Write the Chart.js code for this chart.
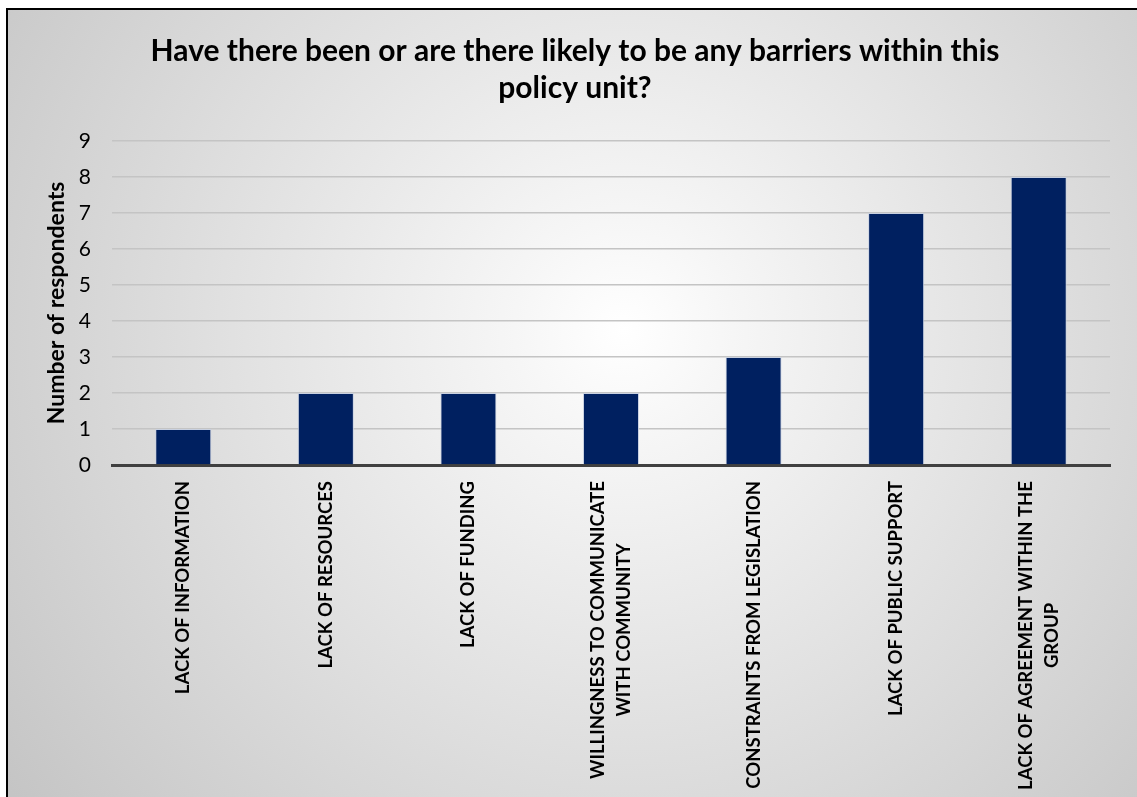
<!DOCTYPE html>
<html>
<head>
<meta charset="utf-8">
<script src="https://cdn.jsdelivr.net/npm/chart.js@4.4.1/dist/chart.umd.min.js"></script>
<style>
  html, body { margin: 0; padding: 0; overflow: hidden; width: 1137px; height: 797px; background: #fff; }
  #frame {
    position: absolute; left: 6px; top: 8px; width: 1140px; height: 800px;
    border-left: 2px solid #000; border-top: 2px solid #000;
    background: radial-gradient(circle farthest-corner at 54% 40%, #ffffff 0%, #f6f6f6 14%, #c4c4c4 100%);
  }
  #chart { position: absolute; left: 0; top: 0; }
</style>
</head>
<body>
<div id="frame"></div>
<canvas id="chart" width="1137" height="797"></canvas>
<script>
// Kategorien (mehrzeilige Labels als Arrays)
const categories = [
    ["LACK OF INFORMATION"],
    ["LACK OF RESOURCES"],
    ["LACK OF FUNDING"],
    ["WILLINGNESS TO COMMUNICATE", "WITH COMMUNITY"],
    ["CONSTRAINTS FROM LEGISLATION"],
    ["LACK OF PUBLIC SUPPORT"],
    ["LACK OF AGREEMENT WITHIN THE", "GROUP"],
];
const respondents = [1, 2, 2, 2, 3, 7, 8];
const yTicks = [0, 1, 2, 3, 4, 5, 6, 7, 8, 9];
const titleLines = [
    "Have there been or are there likely to be any barriers within this",
    "policy unit?",
];
const yAxisTitle = "Number of respondents";

const FONT = "Lato, 'Open Sans', sans-serif";

// x-Labels selbst zeichnen: Block oben bündig an der Achse, Zeilen zentriert
const xLabelPlugin = {
    id: "xLabels",
    afterDraw(chart) {
        const ctx = chart.ctx;
        const xScale = chart.scales.x;
        const top = chart.chartArea.bottom + 16;
        const lineHeight = 26;
        ctx.save();
        ctx.font = "bold 18.5px " + FONT;
        ctx.fillStyle = "#000";
        ctx.textAlign = "center";
        ctx.textBaseline = "middle";
        categories.forEach((lines, i) => {
            const x = xScale.getPixelForValue(i);
            const maxW = Math.max(...lines.map((l) => ctx.measureText(l).width));
            ctx.save();
            ctx.translate(x, top);
            ctx.rotate(-Math.PI / 2);
            lines.forEach((line, j) => {
                const off = (j - (lines.length - 1) / 2) * lineHeight;
                ctx.fillText(line, -maxW / 2, off);
            });
            ctx.restore();
        });
        ctx.restore();
    },
};

const canvas = document.getElementById("chart");
new Chart(canvas.getContext("2d"), {
    type: "bar",
    data: {
        labels: categories,
        datasets: [
            {
                label: yAxisTitle,
                data: respondents,
                backgroundColor: "#002060",
                borderColor: "rgba(200,208,226,0.9)",
                borderWidth: 1,
                barPercentage: 0.393,
                categoryPercentage: 1.0,
            },
        ],
    },
    options: {
        responsive: false,
        maintainAspectRatio: false,
        animation: false,
        layout: { padding: { top: 33, left: 40, right: 27, bottom: 0 } },
        plugins: {
            legend: { display: false },
            tooltip: { enabled: false },
            title: {
                display: true,
                text: titleLines,
                color: "#000",
                font: { family: FONT, size: 30, weight: "bold", lineHeight: 1.233 },
                padding: { top: 0, bottom: 34 },
            },
        },
        scales: {
            x: {
                grid: { display: false },
                border: { display: true, color: "#404040", width: 3 },
                ticks: { display: false },
                afterFit: (s) => { s.height = 332; },
            },
            y: {
                min: 0,
                max: 9,
                afterBuildTicks: (s) => { s.ticks = yTicks.map((v) => ({ value: v })); },
                afterFit: (s) => { s.width = 72; },
                grid: { color: "#c4c4c4", lineWidth: 1.5, drawTicks: false },
                border: { display: false },
                ticks: {
                    color: "#000",
                    padding: 21,
                    font: { family: FONT, size: 21 },
                },
                title: {
                    display: true,
                    text: yAxisTitle,
                    color: "#000",
                    font: { family: FONT, size: 23, weight: "bold" },
                    padding: { top: 3, bottom: 0 },
                },
            },
        },
    },
    plugins: [xLabelPlugin],
});
</script>
</body>
</html>
